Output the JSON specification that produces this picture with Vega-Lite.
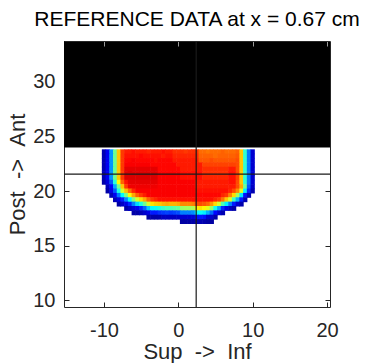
{
"$schema": "https://vega.github.io/schema/vega-lite/v6.json",
"width": 266, "height": 266,
"autosize": {"type": "none"},
"padding": {"left": 64, "top": 41, "right": 36, "bottom": 56},
"background": "#ffffff",
"title": {"text": "REFERENCE DATA at x = 0.67 cm", "font": "Liberation Sans", "fontSize": 21, "fontWeight": "normal", "color": "#000000", "offset": 10},
"config": {
  "view": {"stroke": null},
  "axis": {"grid": false, "tickSize": -5, "tickColor": "#262626", "tickWidth": 1, "domainColor": "#262626", "domainWidth": 1,
    "labelFont": "Liberation Sans", "labelFontSize": 20, "labelColor": "#262626",
    "titleFont": "Liberation Sans", "titleFontSize": 22, "titleFontWeight": "normal", "titleColor": "#262626"}
},
"datasets": {
  "mask": [{"x": -15.38, "x2": 20.4, "y": 24, "y2": 33.76}],
  "vline": [{"x": 2.4}],
  "hline": [{"y": 21.55}],
  "cells": [
{"x":-10,"y":23.6,"v":0.05},{"x":-9.5,"y":23.6,"v":0.11},{"x":-9,"y":23.6,"v":0.27},{"x":-8.5,"y":23.6,"v":0.48},{"x":-8,"y":23.6,"v":0.68},{"x":-7.5,"y":23.6,"v":0.82},{"x":-7,"y":23.6,"v":0.85},{"x":-6.5,"y":23.6,"v":0.85},{"x":-6,"y":23.6,"v":0.86},{"x":-5.5,"y":23.6,"v":0.85},{"x":-5,"y":23.6,"v":0.85},{"x":-4.5,"y":23.6,"v":0.85},{"x":-4,"y":23.6,"v":0.84},{"x":-3.5,"y":23.6,"v":0.85},{"x":-3,"y":23.6,"v":0.85},{"x":-2.5,"y":23.6,"v":0.85},{"x":-2,"y":23.6,"v":0.86},{"x":-1.5,"y":23.6,"v":0.85},{"x":-1,"y":23.6,"v":0.85},{"x":-0.5,"y":23.6,"v":0.83},{"x":0,"y":23.6,"v":0.83},{"x":0.5,"y":23.6,"v":0.83},{"x":1,"y":23.6,"v":0.82},{"x":1.5,"y":23.6,"v":0.83},{"x":2,"y":23.6,"v":0.83},{"x":2.5,"y":23.6,"v":0.83},{"x":3,"y":23.6,"v":0.77},{"x":3.5,"y":23.6,"v":0.77},{"x":4,"y":23.6,"v":0.76},{"x":4.5,"y":23.6,"v":0.77},{"x":5,"y":23.6,"v":0.77},{"x":5.5,"y":23.6,"v":0.77},{"x":6,"y":23.6,"v":0.78},{"x":6.5,"y":23.6,"v":0.77},{"x":7,"y":23.6,"v":0.77},{"x":7.5,"y":23.6,"v":0.77},{"x":8,"y":23.6,"v":0.78},{"x":8.5,"y":23.6,"v":0.68},{"x":9,"y":23.6,"v":0.42},{"x":9.5,"y":23.6,"v":0.24},{"x":10,"y":23.6,"v":0.08},
{"x":-10,"y":23.2,"v":0.05},{"x":-9.5,"y":23.2,"v":0.11},{"x":-9,"y":23.2,"v":0.27},{"x":-8.5,"y":23.2,"v":0.48},{"x":-8,"y":23.2,"v":0.68},{"x":-7.5,"y":23.2,"v":0.82},{"x":-7,"y":23.2,"v":0.86},{"x":-6.5,"y":23.2,"v":0.86},{"x":-6,"y":23.2,"v":0.86},{"x":-5.5,"y":23.2,"v":0.86},{"x":-5,"y":23.2,"v":0.87},{"x":-4.5,"y":23.2,"v":0.86},{"x":-4,"y":23.2,"v":0.86},{"x":-3.5,"y":23.2,"v":0.86},{"x":-3,"y":23.2,"v":0.86},{"x":-2.5,"y":23.2,"v":0.86},{"x":-2,"y":23.2,"v":0.85},{"x":-1.5,"y":23.2,"v":0.86},{"x":-1,"y":23.2,"v":0.86},{"x":-0.5,"y":23.2,"v":0.84},{"x":0,"y":23.2,"v":0.84},{"x":0.5,"y":23.2,"v":0.84},{"x":1,"y":23.2,"v":0.84},{"x":1.5,"y":23.2,"v":0.84},{"x":2,"y":23.2,"v":0.84},{"x":2.5,"y":23.2,"v":0.84},{"x":3,"y":23.2,"v":0.78},{"x":3.5,"y":23.2,"v":0.78},{"x":4,"y":23.2,"v":0.78},{"x":4.5,"y":23.2,"v":0.78},{"x":5,"y":23.2,"v":0.77},{"x":5.5,"y":23.2,"v":0.78},{"x":6,"y":23.2,"v":0.78},{"x":6.5,"y":23.2,"v":0.78},{"x":7,"y":23.2,"v":0.78},{"x":7.5,"y":23.2,"v":0.78},{"x":8,"y":23.2,"v":0.79},{"x":8.5,"y":23.2,"v":0.68},{"x":9,"y":23.2,"v":0.42},{"x":9.5,"y":23.2,"v":0.24},{"x":10,"y":23.2,"v":0.08},
{"x":-10,"y":22.8,"v":0.05},{"x":-9.5,"y":22.8,"v":0.11},{"x":-9,"y":22.8,"v":0.27},{"x":-8.5,"y":22.8,"v":0.48},{"x":-8,"y":22.8,"v":0.68},{"x":-7.5,"y":22.8,"v":0.82},{"x":-7,"y":22.8,"v":0.87},{"x":-6.5,"y":22.8,"v":0.87},{"x":-6,"y":22.8,"v":0.88},{"x":-5.5,"y":22.8,"v":0.87},{"x":-5,"y":22.8,"v":0.87},{"x":-4.5,"y":22.8,"v":0.87},{"x":-4,"y":22.8,"v":0.87},{"x":-3.5,"y":22.8,"v":0.87},{"x":-3,"y":22.8,"v":0.86},{"x":-2.5,"y":22.8,"v":0.87},{"x":-2,"y":22.8,"v":0.87},{"x":-1.5,"y":22.8,"v":0.87},{"x":-1,"y":22.8,"v":0.87},{"x":-0.5,"y":22.8,"v":0.85},{"x":0,"y":22.8,"v":0.85},{"x":0.5,"y":22.8,"v":0.85},{"x":1,"y":22.8,"v":0.85},{"x":1.5,"y":22.8,"v":0.85},{"x":2,"y":22.8,"v":0.85},{"x":2.5,"y":22.8,"v":0.85},{"x":3,"y":22.8,"v":0.79},{"x":3.5,"y":22.8,"v":0.79},{"x":4,"y":22.8,"v":0.79},{"x":4.5,"y":22.8,"v":0.8},{"x":5,"y":22.8,"v":0.79},{"x":5.5,"y":22.8,"v":0.79},{"x":6,"y":22.8,"v":0.79},{"x":6.5,"y":22.8,"v":0.79},{"x":7,"y":22.8,"v":0.79},{"x":7.5,"y":22.8,"v":0.79},{"x":8,"y":22.8,"v":0.8},{"x":8.5,"y":22.8,"v":0.68},{"x":9,"y":22.8,"v":0.42},{"x":9.5,"y":22.8,"v":0.24},{"x":10,"y":22.8,"v":0.08},
{"x":-10,"y":22.4,"v":0.05},{"x":-9.5,"y":22.4,"v":0.11},{"x":-9,"y":22.4,"v":0.27},{"x":-8.5,"y":22.4,"v":0.48},{"x":-8,"y":22.4,"v":0.68},{"x":-7.5,"y":22.4,"v":0.82},{"x":-7,"y":22.4,"v":0.88},{"x":-6.5,"y":22.4,"v":0.88},{"x":-6,"y":22.4,"v":0.88},{"x":-5.5,"y":22.4,"v":0.88},{"x":-5,"y":22.4,"v":0.88},{"x":-4.5,"y":22.4,"v":0.88},{"x":-4,"y":22.4,"v":0.88},{"x":-3.5,"y":22.4,"v":0.87},{"x":-3,"y":22.4,"v":0.87},{"x":-2.5,"y":22.4,"v":0.87},{"x":-2,"y":22.4,"v":0.87},{"x":-1.5,"y":22.4,"v":0.87},{"x":-1,"y":22.4,"v":0.87},{"x":-0.5,"y":22.4,"v":0.87},{"x":0,"y":22.4,"v":0.85},{"x":0.5,"y":22.4,"v":0.85},{"x":1,"y":22.4,"v":0.85},{"x":1.5,"y":22.4,"v":0.85},{"x":2,"y":22.4,"v":0.85},{"x":2.5,"y":22.4,"v":0.85},{"x":3,"y":22.4,"v":0.85},{"x":3.5,"y":22.4,"v":0.81},{"x":4,"y":22.4,"v":0.81},{"x":4.5,"y":22.4,"v":0.81},{"x":5,"y":22.4,"v":0.81},{"x":5.5,"y":22.4,"v":0.81},{"x":6,"y":22.4,"v":0.81},{"x":6.5,"y":22.4,"v":0.81},{"x":7,"y":22.4,"v":0.81},{"x":7.5,"y":22.4,"v":0.81},{"x":8,"y":22.4,"v":0.8},{"x":8.5,"y":22.4,"v":0.68},{"x":9,"y":22.4,"v":0.42},{"x":9.5,"y":22.4,"v":0.24},{"x":10,"y":22.4,"v":0.08},
{"x":-10,"y":22.0,"v":0.05},{"x":-9.5,"y":22.0,"v":0.11},{"x":-9,"y":22.0,"v":0.27},{"x":-8.5,"y":22.0,"v":0.48},{"x":-8,"y":22.0,"v":0.68},{"x":-7.5,"y":22.0,"v":0.82},{"x":-7,"y":22.0,"v":0.9},{"x":-6.5,"y":22.0,"v":0.9},{"x":-6,"y":22.0,"v":0.9},{"x":-5.5,"y":22.0,"v":0.9},{"x":-5,"y":22.0,"v":0.9},{"x":-4.5,"y":22.0,"v":0.9},{"x":-4,"y":22.0,"v":0.9},{"x":-3.5,"y":22.0,"v":0.9},{"x":-3,"y":22.0,"v":0.9},{"x":-2.5,"y":22.0,"v":0.87},{"x":-2,"y":22.0,"v":0.87},{"x":-1.5,"y":22.0,"v":0.87},{"x":-1,"y":22.0,"v":0.87},{"x":-0.5,"y":22.0,"v":0.87},{"x":0,"y":22.0,"v":0.87},{"x":0.5,"y":22.0,"v":0.85},{"x":1,"y":22.0,"v":0.85},{"x":1.5,"y":22.0,"v":0.85},{"x":2,"y":22.0,"v":0.85},{"x":2.5,"y":22.0,"v":0.85},{"x":3,"y":22.0,"v":0.85},{"x":3.5,"y":22.0,"v":0.83},{"x":4,"y":22.0,"v":0.83},{"x":4.5,"y":22.0,"v":0.83},{"x":5,"y":22.0,"v":0.83},{"x":5.5,"y":22.0,"v":0.83},{"x":6,"y":22.0,"v":0.83},{"x":6.5,"y":22.0,"v":0.83},{"x":7,"y":22.0,"v":0.85},{"x":7.5,"y":22.0,"v":0.85},{"x":8,"y":22.0,"v":0.8},{"x":8.5,"y":22.0,"v":0.68},{"x":9,"y":22.0,"v":0.42},{"x":9.5,"y":22.0,"v":0.24},{"x":10,"y":22.0,"v":0.08},
{"x":-10,"y":21.6,"v":0.05},{"x":-9.5,"y":21.6,"v":0.11},{"x":-9,"y":21.6,"v":0.27},{"x":-8.5,"y":21.6,"v":0.48},{"x":-8,"y":21.6,"v":0.68},{"x":-7.5,"y":21.6,"v":0.82},{"x":-7,"y":21.6,"v":0.91},{"x":-6.5,"y":21.6,"v":0.91},{"x":-6,"y":21.6,"v":0.91},{"x":-5.5,"y":21.6,"v":0.91},{"x":-5,"y":21.6,"v":0.91},{"x":-4.5,"y":21.6,"v":0.91},{"x":-4,"y":21.6,"v":0.91},{"x":-3.5,"y":21.6,"v":0.91},{"x":-3,"y":21.6,"v":0.91},{"x":-2.5,"y":21.6,"v":0.88},{"x":-2,"y":21.6,"v":0.88},{"x":-1.5,"y":21.6,"v":0.88},{"x":-1,"y":21.6,"v":0.88},{"x":-0.5,"y":21.6,"v":0.88},{"x":0,"y":21.6,"v":0.88},{"x":0.5,"y":21.6,"v":0.86},{"x":1,"y":21.6,"v":0.86},{"x":1.5,"y":21.6,"v":0.86},{"x":2,"y":21.6,"v":0.86},{"x":2.5,"y":21.6,"v":0.86},{"x":3,"y":21.6,"v":0.86},{"x":3.5,"y":21.6,"v":0.83},{"x":4,"y":21.6,"v":0.83},{"x":4.5,"y":21.6,"v":0.83},{"x":5,"y":21.6,"v":0.83},{"x":5.5,"y":21.6,"v":0.83},{"x":6,"y":21.6,"v":0.83},{"x":6.5,"y":21.6,"v":0.83},{"x":7,"y":21.6,"v":0.86},{"x":7.5,"y":21.6,"v":0.86},{"x":8,"y":21.6,"v":0.81},{"x":8.5,"y":21.6,"v":0.68},{"x":9,"y":21.6,"v":0.42},{"x":9.5,"y":21.6,"v":0.24},{"x":10,"y":21.6,"v":0.08},
{"x":-10,"y":21.2,"v":0.05},{"x":-9.5,"y":21.2,"v":0.11},{"x":-9,"y":21.2,"v":0.27},{"x":-8.5,"y":21.2,"v":0.48},{"x":-8,"y":21.2,"v":0.68},{"x":-7.5,"y":21.2,"v":0.82},{"x":-7,"y":21.2,"v":0.91},{"x":-6.5,"y":21.2,"v":0.91},{"x":-6,"y":21.2,"v":0.91},{"x":-5.5,"y":21.2,"v":0.91},{"x":-5,"y":21.2,"v":0.91},{"x":-4.5,"y":21.2,"v":0.91},{"x":-4,"y":21.2,"v":0.91},{"x":-3.5,"y":21.2,"v":0.91},{"x":-3,"y":21.2,"v":0.91},{"x":-2.5,"y":21.2,"v":0.88},{"x":-2,"y":21.2,"v":0.88},{"x":-1.5,"y":21.2,"v":0.88},{"x":-1,"y":21.2,"v":0.88},{"x":-0.5,"y":21.2,"v":0.88},{"x":0,"y":21.2,"v":0.88},{"x":0.5,"y":21.2,"v":0.86},{"x":1,"y":21.2,"v":0.86},{"x":1.5,"y":21.2,"v":0.86},{"x":2,"y":21.2,"v":0.86},{"x":2.5,"y":21.2,"v":0.86},{"x":3,"y":21.2,"v":0.86},{"x":3.5,"y":21.2,"v":0.84},{"x":4,"y":21.2,"v":0.84},{"x":4.5,"y":21.2,"v":0.84},{"x":5,"y":21.2,"v":0.84},{"x":5.5,"y":21.2,"v":0.84},{"x":6,"y":21.2,"v":0.84},{"x":6.5,"y":21.2,"v":0.84},{"x":7,"y":21.2,"v":0.86},{"x":7.5,"y":21.2,"v":0.86},{"x":8,"y":21.2,"v":0.81},{"x":8.5,"y":21.2,"v":0.68},{"x":9,"y":21.2,"v":0.42},{"x":9.5,"y":21.2,"v":0.24},{"x":10,"y":21.2,"v":0.08},
{"x":-10,"y":20.8,"v":0.04},{"x":-9.5,"y":20.8,"v":0.09},{"x":-9,"y":20.8,"v":0.21},{"x":-8.5,"y":20.8,"v":0.41},{"x":-8,"y":20.8,"v":0.63},{"x":-7.5,"y":20.8,"v":0.78},{"x":-7,"y":20.8,"v":0.86},{"x":-6.5,"y":20.8,"v":0.9},{"x":-6,"y":20.8,"v":0.9},{"x":-5.5,"y":20.8,"v":0.9},{"x":-5,"y":20.8,"v":0.9},{"x":-4.5,"y":20.8,"v":0.9},{"x":-4,"y":20.8,"v":0.9},{"x":-3.5,"y":20.8,"v":0.9},{"x":-3,"y":20.8,"v":0.9},{"x":-2.5,"y":20.8,"v":0.88},{"x":-2,"y":20.8,"v":0.88},{"x":-1.5,"y":20.8,"v":0.88},{"x":-1,"y":20.8,"v":0.88},{"x":-0.5,"y":20.8,"v":0.88},{"x":0,"y":20.8,"v":0.88},{"x":0.5,"y":20.8,"v":0.88},{"x":1,"y":20.8,"v":0.88},{"x":1.5,"y":20.8,"v":0.88},{"x":2,"y":20.8,"v":0.88},{"x":2.5,"y":20.8,"v":0.85},{"x":3,"y":20.8,"v":0.85},{"x":3.5,"y":20.8,"v":0.85},{"x":4,"y":20.8,"v":0.85},{"x":4.5,"y":20.8,"v":0.85},{"x":5,"y":20.8,"v":0.85},{"x":5.5,"y":20.8,"v":0.85},{"x":6,"y":20.8,"v":0.85},{"x":6.5,"y":20.8,"v":0.85},{"x":7,"y":20.8,"v":0.86},{"x":7.5,"y":20.8,"v":0.86},{"x":8,"y":20.8,"v":0.8},{"x":8.5,"y":20.8,"v":0.68},{"x":9,"y":20.8,"v":0.42},{"x":9.5,"y":20.8,"v":0.24},{"x":10,"y":20.8,"v":0.08},
{"x":-9.5,"y":20.4,"v":0.055},{"x":-9,"y":20.4,"v":0.12},{"x":-8.5,"y":20.4,"v":0.29},{"x":-8,"y":20.4,"v":0.49},{"x":-7.5,"y":20.4,"v":0.68},{"x":-7,"y":20.4,"v":0.82},{"x":-6.5,"y":20.4,"v":0.89},{"x":-6,"y":20.4,"v":0.89},{"x":-5.5,"y":20.4,"v":0.89},{"x":-5,"y":20.4,"v":0.89},{"x":-4.5,"y":20.4,"v":0.89},{"x":-4,"y":20.4,"v":0.89},{"x":-3.5,"y":20.4,"v":0.89},{"x":-3,"y":20.4,"v":0.89},{"x":-2.5,"y":20.4,"v":0.88},{"x":-2,"y":20.4,"v":0.88},{"x":-1.5,"y":20.4,"v":0.88},{"x":-1,"y":20.4,"v":0.88},{"x":-0.5,"y":20.4,"v":0.88},{"x":0,"y":20.4,"v":0.88},{"x":0.5,"y":20.4,"v":0.88},{"x":1,"y":20.4,"v":0.88},{"x":1.5,"y":20.4,"v":0.88},{"x":2,"y":20.4,"v":0.88},{"x":2.5,"y":20.4,"v":0.85},{"x":3,"y":20.4,"v":0.85},{"x":3.5,"y":20.4,"v":0.85},{"x":4,"y":20.4,"v":0.85},{"x":4.5,"y":20.4,"v":0.85},{"x":5,"y":20.4,"v":0.85},{"x":5.5,"y":20.4,"v":0.85},{"x":6,"y":20.4,"v":0.85},{"x":6.5,"y":20.4,"v":0.85},{"x":7,"y":20.4,"v":0.85},{"x":7.5,"y":20.4,"v":0.85},{"x":8,"y":20.4,"v":0.8},{"x":8.5,"y":20.4,"v":0.71},{"x":9,"y":20.4,"v":0.48},{"x":9.5,"y":20.4,"v":0.21},{"x":10,"y":20.4,"v":0.07},
{"x":-9.5,"y":20.0,"v":0.04},{"x":-9,"y":20.0,"v":0.1},{"x":-8.5,"y":20.0,"v":0.21},{"x":-8,"y":20.0,"v":0.4},{"x":-7.5,"y":20.0,"v":0.58},{"x":-7,"y":20.0,"v":0.69},{"x":-6.5,"y":20.0,"v":0.77},{"x":-6,"y":20.0,"v":0.84},{"x":-5.5,"y":20.0,"v":0.88},{"x":-5,"y":20.0,"v":0.88},{"x":-4.5,"y":20.0,"v":0.88},{"x":-4,"y":20.0,"v":0.88},{"x":-3.5,"y":20.0,"v":0.88},{"x":-3,"y":20.0,"v":0.88},{"x":-2.5,"y":20.0,"v":0.88},{"x":-2,"y":20.0,"v":0.88},{"x":-1.5,"y":20.0,"v":0.88},{"x":-1,"y":20.0,"v":0.88},{"x":-0.5,"y":20.0,"v":0.88},{"x":0,"y":20.0,"v":0.88},{"x":0.5,"y":20.0,"v":0.88},{"x":1,"y":20.0,"v":0.88},{"x":1.5,"y":20.0,"v":0.88},{"x":2,"y":20.0,"v":0.88},{"x":2.5,"y":20.0,"v":0.86},{"x":3,"y":20.0,"v":0.86},{"x":3.5,"y":20.0,"v":0.86},{"x":4,"y":20.0,"v":0.86},{"x":4.5,"y":20.0,"v":0.86},{"x":5,"y":20.0,"v":0.86},{"x":5.5,"y":20.0,"v":0.86},{"x":6,"y":20.0,"v":0.86},{"x":6.5,"y":20.0,"v":0.86},{"x":7,"y":20.0,"v":0.84},{"x":7.5,"y":20.0,"v":0.8},{"x":8,"y":20.0,"v":0.74},{"x":8.5,"y":20.0,"v":0.6},{"x":9,"y":20.0,"v":0.36},{"x":9.5,"y":20.0,"v":0.16},{"x":10,"y":20.0,"v":0.05},
{"x":-9,"y":19.6,"v":0.055},{"x":-8.5,"y":19.6,"v":0.11},{"x":-8,"y":19.6,"v":0.24},{"x":-7.5,"y":19.6,"v":0.37},{"x":-7,"y":19.6,"v":0.49},{"x":-6.5,"y":19.6,"v":0.62},{"x":-6,"y":19.6,"v":0.71},{"x":-5.5,"y":19.6,"v":0.78},{"x":-5,"y":19.6,"v":0.82},{"x":-4.5,"y":19.6,"v":0.85},{"x":-4,"y":19.6,"v":0.88},{"x":-3.5,"y":19.6,"v":0.88},{"x":-3,"y":19.6,"v":0.88},{"x":-2.5,"y":19.6,"v":0.88},{"x":-2,"y":19.6,"v":0.88},{"x":-1.5,"y":19.6,"v":0.88},{"x":-1,"y":19.6,"v":0.88},{"x":-0.5,"y":19.6,"v":0.88},{"x":0,"y":19.6,"v":0.88},{"x":0.5,"y":19.6,"v":0.88},{"x":1,"y":19.6,"v":0.88},{"x":1.5,"y":19.6,"v":0.88},{"x":2,"y":19.6,"v":0.88},{"x":2.5,"y":19.6,"v":0.87},{"x":3,"y":19.6,"v":0.87},{"x":3.5,"y":19.6,"v":0.87},{"x":4,"y":19.6,"v":0.87},{"x":4.5,"y":19.6,"v":0.87},{"x":5,"y":19.6,"v":0.87},{"x":5.5,"y":19.6,"v":0.87},{"x":6,"y":19.6,"v":0.84},{"x":6.5,"y":19.6,"v":0.82},{"x":7,"y":19.6,"v":0.75},{"x":7.5,"y":19.6,"v":0.66},{"x":8,"y":19.6,"v":0.53},{"x":8.5,"y":19.6,"v":0.35},{"x":9,"y":19.6,"v":0.14},{"x":9.5,"y":19.6,"v":0.055},
{"x":-8.5,"y":19.2,"v":0.055},{"x":-8,"y":19.2,"v":0.1},{"x":-7.5,"y":19.2,"v":0.16},{"x":-7,"y":19.2,"v":0.26},{"x":-6.5,"y":19.2,"v":0.38},{"x":-6,"y":19.2,"v":0.5},{"x":-5.5,"y":19.2,"v":0.59},{"x":-5,"y":19.2,"v":0.66},{"x":-4.5,"y":19.2,"v":0.71},{"x":-4,"y":19.2,"v":0.78},{"x":-3.5,"y":19.2,"v":0.82},{"x":-3,"y":19.2,"v":0.84},{"x":-2.5,"y":19.2,"v":0.86},{"x":-2,"y":19.2,"v":0.86},{"x":-1.5,"y":19.2,"v":0.86},{"x":-1,"y":19.2,"v":0.86},{"x":-0.5,"y":19.2,"v":0.86},{"x":0,"y":19.2,"v":0.86},{"x":0.5,"y":19.2,"v":0.86},{"x":1,"y":19.2,"v":0.86},{"x":1.5,"y":19.2,"v":0.86},{"x":2,"y":19.2,"v":0.86},{"x":2.5,"y":19.2,"v":0.86},{"x":3,"y":19.2,"v":0.86},{"x":3.5,"y":19.2,"v":0.86},{"x":4,"y":19.2,"v":0.86},{"x":4.5,"y":19.2,"v":0.86},{"x":5,"y":19.2,"v":0.84},{"x":5.5,"y":19.2,"v":0.82},{"x":6,"y":19.2,"v":0.76},{"x":6.5,"y":19.2,"v":0.68},{"x":7,"y":19.2,"v":0.59},{"x":7.5,"y":19.2,"v":0.44},{"x":8,"y":19.2,"v":0.3},{"x":8.5,"y":19.2,"v":0.15},{"x":9,"y":19.2,"v":0.055},
{"x":-8,"y":18.8,"v":0.04},{"x":-7.5,"y":18.8,"v":0.07},{"x":-7,"y":18.8,"v":0.1},{"x":-6.5,"y":18.8,"v":0.16},{"x":-6,"y":18.8,"v":0.25},{"x":-5.5,"y":18.8,"v":0.34},{"x":-5,"y":18.8,"v":0.4},{"x":-4.5,"y":18.8,"v":0.48},{"x":-4,"y":18.8,"v":0.58},{"x":-3.5,"y":18.8,"v":0.65},{"x":-3,"y":18.8,"v":0.67},{"x":-2.5,"y":18.8,"v":0.68},{"x":-2,"y":18.8,"v":0.7},{"x":-1.5,"y":18.8,"v":0.71},{"x":-1,"y":18.8,"v":0.7},{"x":-0.5,"y":18.8,"v":0.7},{"x":0,"y":18.8,"v":0.71},{"x":0.5,"y":18.8,"v":0.74},{"x":1,"y":18.8,"v":0.74},{"x":1.5,"y":18.8,"v":0.74},{"x":2,"y":18.8,"v":0.75},{"x":2.5,"y":18.8,"v":0.8},{"x":3,"y":18.8,"v":0.8},{"x":3.5,"y":18.8,"v":0.79},{"x":4,"y":18.8,"v":0.77},{"x":4.5,"y":18.8,"v":0.73},{"x":5,"y":18.8,"v":0.66},{"x":5.5,"y":18.8,"v":0.58},{"x":6,"y":18.8,"v":0.45},{"x":6.5,"y":18.8,"v":0.36},{"x":7,"y":18.8,"v":0.25},{"x":7.5,"y":18.8,"v":0.15},{"x":8,"y":18.8,"v":0.08},{"x":8.5,"y":18.8,"v":0.045},
{"x":-7,"y":18.4,"v":0.04},{"x":-6.5,"y":18.4,"v":0.065},{"x":-6,"y":18.4,"v":0.09},{"x":-5.5,"y":18.4,"v":0.11},{"x":-5,"y":18.4,"v":0.16},{"x":-4.5,"y":18.4,"v":0.22},{"x":-4,"y":18.4,"v":0.32},{"x":-3.5,"y":18.4,"v":0.38},{"x":-3,"y":18.4,"v":0.39},{"x":-2.5,"y":18.4,"v":0.41},{"x":-2,"y":18.4,"v":0.43},{"x":-1.5,"y":18.4,"v":0.45},{"x":-1,"y":18.4,"v":0.45},{"x":-0.5,"y":18.4,"v":0.46},{"x":0,"y":18.4,"v":0.47},{"x":0.5,"y":18.4,"v":0.52},{"x":1,"y":18.4,"v":0.53},{"x":1.5,"y":18.4,"v":0.53},{"x":2,"y":18.4,"v":0.54},{"x":2.5,"y":18.4,"v":0.64},{"x":3,"y":18.4,"v":0.65},{"x":3.5,"y":18.4,"v":0.63},{"x":4,"y":18.4,"v":0.6},{"x":4.5,"y":18.4,"v":0.52},{"x":5,"y":18.4,"v":0.39},{"x":5.5,"y":18.4,"v":0.29},{"x":6,"y":18.4,"v":0.16},{"x":6.5,"y":18.4,"v":0.1},{"x":7,"y":18.4,"v":0.065},{"x":7.5,"y":18.4,"v":0.04},
{"x":-6,"y":18.0,"v":0.04},{"x":-5.5,"y":18.0,"v":0.04},{"x":-5,"y":18.0,"v":0.055},{"x":-4.5,"y":18.0,"v":0.075},{"x":-4,"y":18.0,"v":0.1},{"x":-3.5,"y":18.0,"v":0.15},{"x":-3,"y":18.0,"v":0.15},{"x":-2.5,"y":18.0,"v":0.17},{"x":-2,"y":18.0,"v":0.18},{"x":-1.5,"y":18.0,"v":0.19},{"x":-1,"y":18.0,"v":0.18},{"x":-0.5,"y":18.0,"v":0.19},{"x":0,"y":18.0,"v":0.2},{"x":0.5,"y":18.0,"v":0.25},{"x":1,"y":18.0,"v":0.25},{"x":1.5,"y":18.0,"v":0.25},{"x":2,"y":18.0,"v":0.26},{"x":2.5,"y":18.0,"v":0.37},{"x":3,"y":18.0,"v":0.38},{"x":3.5,"y":18.0,"v":0.36},{"x":4,"y":18.0,"v":0.3},{"x":4.5,"y":18.0,"v":0.23},{"x":5,"y":18.0,"v":0.13},{"x":5.5,"y":18.0,"v":0.08},{"x":6,"y":18.0,"v":0.05},
{"x":-4,"y":17.6,"v":0.035},{"x":-3.5,"y":17.6,"v":0.04},{"x":-3,"y":17.6,"v":0.04},{"x":-2.5,"y":17.6,"v":0.045},{"x":-2,"y":17.6,"v":0.065},{"x":-1.5,"y":17.6,"v":0.065},{"x":-1,"y":17.6,"v":0.065},{"x":-0.5,"y":17.6,"v":0.065},{"x":0,"y":17.6,"v":0.07},{"x":0.5,"y":17.6,"v":0.08},{"x":1,"y":17.6,"v":0.08},{"x":1.5,"y":17.6,"v":0.08},{"x":2,"y":17.6,"v":0.085},{"x":2.5,"y":17.6,"v":0.14},{"x":3,"y":17.6,"v":0.15},{"x":3.5,"y":17.6,"v":0.14},{"x":4,"y":17.6,"v":0.08},{"x":4.5,"y":17.6,"v":0.075},{"x":5,"y":17.6,"v":0.04},
{"x":0.5,"y":17.2,"v":0.035},{"x":1,"y":17.2,"v":0.035},{"x":1.5,"y":17.2,"v":0.035},{"x":2,"y":17.2,"v":0.04},{"x":2.5,"y":17.2,"v":0.05},{"x":3,"y":17.2,"v":0.05},{"x":3.5,"y":17.2,"v":0.045},{"x":4,"y":17.2,"v":0.035},{"x":4.5,"y":17.2,"v":0.035}
  ]
},
"layer": [
  {
    "data": {"name": "mask"},
    "mark": {"type": "rect", "color": "#000000"},
    "encoding": {
      "x": {"field": "x", "type": "quantitative", "title": "Sup \u00a0-> \u00a0Inf", "scale": {"domain": [-15.38, 20.4], "nice": false, "zero": false}, "axis": {"orient": "bottom", "values": [-10, 0, 10, 20], "labelExpr": "'' + datum.value", "labelPadding": 18, "titlePadding": 1}},
      "x2": {"field": "x2"},
      "y": {"field": "y", "type": "quantitative", "title": "Post \u00a0-> \u00a0Ant", "scale": {"domain": [9.36, 33.76], "nice": false, "zero": false}, "axis": {"orient": "left", "values": [10, 15, 20, 25, 30], "labelExpr": "'' + datum.value", "labelPadding": 14, "titlePadding": 3}},
      "y2": {"field": "y2"}
    }
  },
  {
    "data": {"name": "cells"},
    "mark": {"type": "rect", "width": 4.3, "height": 4.9},
    "encoding": {
      "x": {"field": "x", "type": "quantitative", "scale": {"domain": [-15.38, 20.4], "nice": false, "zero": false}, "axis": null},
      "y": {"field": "y", "type": "quantitative", "scale": {"domain": [9.36, 33.76], "nice": false, "zero": false}, "axis": null},
      "color": {"field": "v", "type": "quantitative", "legend": null, "scale": {"domain": [0, 0.125, 0.375, 0.625, 0.875, 1], "range": ["#00007f", "#0000ff", "#00ffff", "#ffff00", "#ff0000", "#7f0000"], "interpolate": "rgb"}}
    }
  },
  {
    "data": {"name": "vline"},
    "mark": {"type": "rule", "color": "#1a1a1a", "strokeWidth": 1.2},
    "encoding": {
      "x": {"field": "x", "type": "quantitative", "title": null, "scale": {"domain": [-15.38, 20.4], "nice": false, "zero": false}, "axis": {"orient": "top", "values": [-10, 0, 10, 20], "labels": false, "title": null, "tickColor": "#9a9a9a", "zindex": 2}}
    }
  },
  {
    "data": {"name": "hline"},
    "mark": {"type": "rule", "color": "#1a1a1a", "strokeWidth": 1.2},
    "encoding": {
      "y": {"field": "y", "type": "quantitative", "title": null, "scale": {"domain": [9.36, 33.76], "nice": false, "zero": false}, "axis": {"orient": "right", "values": [10, 15, 20, 25, 30], "labels": false, "title": null}}
    }
  }
]
}
